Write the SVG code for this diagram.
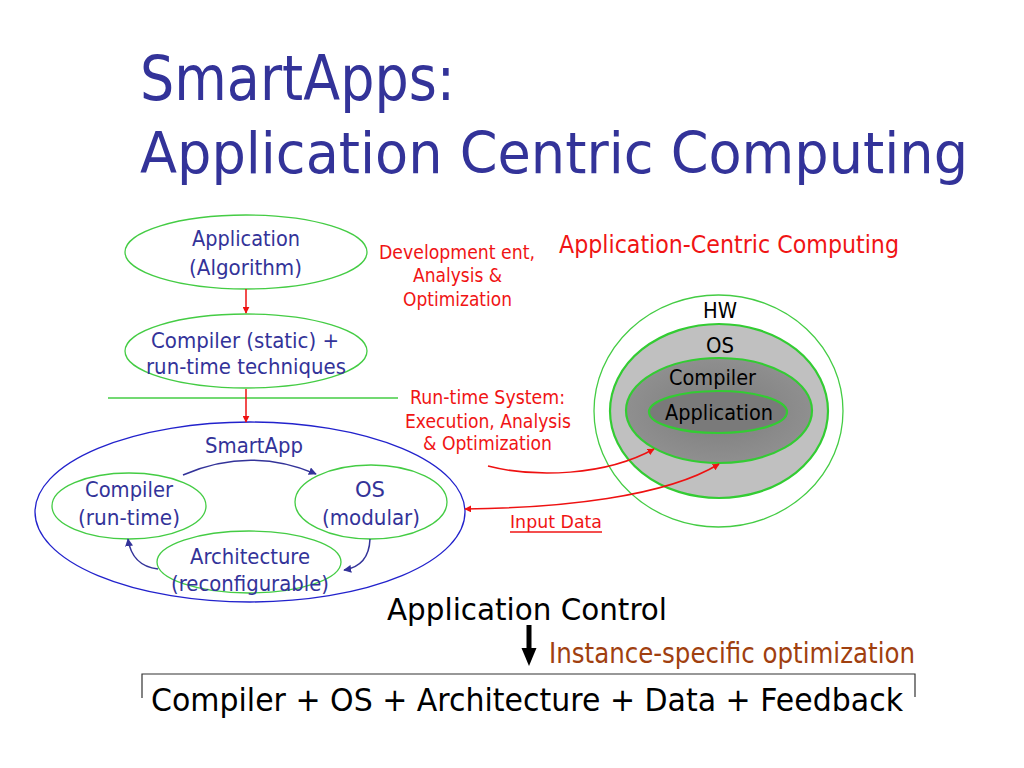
<svg xmlns="http://www.w3.org/2000/svg" width="1024" height="768" viewBox="0 0 1024 768">
<style>
text{font-family:"DejaVu Sans","Liberation Sans",sans-serif;}
.title{font-size:57px;fill:#333399;}
.bl{font-size:21px;fill:#333399;}
.rd{font-size:19px;fill:#f01414;}
.bk{font-size:20.5px;fill:#000;}
.big{font-size:31px;fill:#000;}
.br{font-size:28px;fill:#a0400f;}
.gel{fill:none;stroke:#44cc44;stroke-width:1.3;}
.gfill{stroke:#33cc33;stroke-width:2.2;}
.red{fill:none;stroke:#ee1111;stroke-width:1.5;}
.blue{fill:none;stroke:#333399;stroke-width:1.5;}
</style>
<defs>
<marker id="ra" viewBox="0 0 10 10" refX="9" refY="5" markerWidth="7" markerHeight="7" markerUnits="userSpaceOnUse" orient="auto-start-reverse"><path d="M0,0 L10,5 L0,10 z" fill="#ee1111"/></marker>
<marker id="ba" viewBox="0 0 10 10" refX="9" refY="5" markerWidth="8" markerHeight="8" markerUnits="userSpaceOnUse" orient="auto"><path d="M0,0 L10,5 L0,10 z" fill="#333399"/></marker>
<radialGradient id="cg" cx="0.5" cy="0.5" r="0.6"><stop offset="0" stop-color="#7c7c7c"/><stop offset="1" stop-color="#939393"/></radialGradient>
</defs>
<rect width="1024" height="768" fill="#fff"/>

<g id="title">
<text class="title" x="140" y="100" style="font-size:62px" textLength="315" lengthAdjust="spacingAndGlyphs">SmartApps:</text>
<text class="title" x="140" y="173" textLength="828" lengthAdjust="spacingAndGlyphs">Application Centric Computing</text>
</g>

<g id="node-application">
<ellipse class="gel" cx="246" cy="252" rx="121" ry="37"/>
<text class="bl" x="192" y="246" textLength="108" lengthAdjust="spacingAndGlyphs">Application</text>
<text class="bl" x="189" y="275" textLength="113" lengthAdjust="spacingAndGlyphs">(Algorithm)</text>
</g>
<g id="node-compiler-static">
<ellipse class="gel" cx="246" cy="351" rx="121" ry="37"/>
<text class="bl" x="151" y="348" textLength="188" lengthAdjust="spacingAndGlyphs">Compiler (static) +</text>
<text class="bl" x="146" y="374" textLength="200" lengthAdjust="spacingAndGlyphs">run-time techniques</text>
</g>
<g id="divider">
<line x1="108" y1="398" x2="398" y2="398" stroke="#44cc44" stroke-width="1.3"/>
</g>
<g id="node-smartapp">
<ellipse cx="250" cy="512" rx="215" ry="90" fill="none" stroke="#2222cc" stroke-width="1.3"/>
<text class="bl" x="205" y="453" textLength="98" lengthAdjust="spacingAndGlyphs">SmartApp</text>
</g>
<g id="node-compiler-runtime">
<ellipse class="gel" cx="129" cy="506" rx="77" ry="33"/>
<text class="bl" x="85" y="497" textLength="88" lengthAdjust="spacingAndGlyphs">Compiler</text>
<text class="bl" x="78" y="525" textLength="102" lengthAdjust="spacingAndGlyphs">(run-time)</text>
</g>
<g id="node-os-modular">
<ellipse class="gel" cx="371" cy="502" rx="76" ry="37"/>
<text class="bl" x="355" y="497" textLength="30" lengthAdjust="spacingAndGlyphs">OS</text>
<text class="bl" x="322" y="525" textLength="98" lengthAdjust="spacingAndGlyphs">(modular)</text>
</g>
<g id="node-architecture">
<ellipse class="gel" cx="249" cy="562" rx="92" ry="31"/>
<text class="bl" x="190" y="564" textLength="120" lengthAdjust="spacingAndGlyphs">Architecture</text>
<text class="bl" x="171" y="591" textLength="158" lengthAdjust="spacingAndGlyphs">(reconfigurable)</text>
</g>

<g id="labels-red">
<text class="rd" x="379" y="259" textLength="156" lengthAdjust="spacingAndGlyphs">Development ent,</text>
<text class="rd" x="413" y="282" textLength="89" lengthAdjust="spacingAndGlyphs">Analysis &amp;</text>
<text class="rd" x="403" y="306" textLength="109" lengthAdjust="spacingAndGlyphs">Optimization</text>
<text class="rd" x="559" y="253" style="font-size:24px" textLength="340" lengthAdjust="spacingAndGlyphs">Application-Centric Computing</text>
<text class="rd" x="410" y="404" textLength="155" lengthAdjust="spacingAndGlyphs">Run-time System:</text>
<text class="rd" x="405" y="428" textLength="166" lengthAdjust="spacingAndGlyphs">Execution, Analysis</text>
<text class="rd" x="423" y="450" textLength="129" lengthAdjust="spacingAndGlyphs">&amp; Optimization</text>
<text class="rd" x="510" y="528" style="font-size:18px" textLength="92" lengthAdjust="spacingAndGlyphs">Input Data</text>
<line x1="510" y1="532" x2="602" y2="532" stroke="#f01414" stroke-width="1.3"/>
</g>

<g id="node-hw">
<ellipse class="gel" cx="718.5" cy="411" rx="124.5" ry="116" fill="#fff"/>
<text class="bk" x="703" y="318" textLength="34" lengthAdjust="spacingAndGlyphs">HW</text>
</g>
<g id="node-os">
<ellipse class="gfill" cx="719" cy="411" rx="109" ry="87" fill="#c0c0c0"/>
<text class="bk" x="706" y="353" textLength="28" lengthAdjust="spacingAndGlyphs">OS</text>
</g>
<g id="node-compiler">
<ellipse class="gfill" cx="719" cy="410.5" rx="93" ry="52.5" fill="url(#cg)"/>
<text class="bk" x="669" y="385" textLength="87" lengthAdjust="spacingAndGlyphs">Compiler</text>
</g>
<g id="node-app">
<ellipse class="gfill" cx="718" cy="412" rx="69" ry="21" fill="#7a7a7a"/>
<text class="bk" x="665" y="420" textLength="108" lengthAdjust="spacingAndGlyphs">Application</text>
</g>

<g id="connectors">
<line class="red" x1="246" y1="289" x2="246" y2="313" marker-end="url(#ra)"/>
<line class="red" x1="246" y1="389" x2="246" y2="422" marker-end="url(#ra)"/>
<path class="blue" d="M183,475 Q250,446 316,474" marker-end="url(#ba)"/>
<path class="blue" d="M370,539 Q369,566 344,570" marker-end="url(#ba)"/>
<path class="blue" d="M158,569 Q132,566 128,539" marker-end="url(#ba)"/>
<path class="red" d="M488,466 C535,478 605,476 654,449" marker-end="url(#ra)"/>
<path class="red" d="M465,509 C560,508 665,497 719,464" marker-start="url(#ra)" marker-end="url(#ra)"/>
<line x1="529" y1="625" x2="529" y2="650" stroke="#000" stroke-width="5"/>
<path d="M521.5,648 L536.5,648 L529,666 z" fill="#000"/>
</g>

<g id="bottom">
<text class="big" x="387" y="620" textLength="280" lengthAdjust="spacingAndGlyphs">Application Control</text>
<text class="br" x="549" y="663" textLength="366" lengthAdjust="spacingAndGlyphs">Instance-specific optimization</text>
<path d="M142,698 V674 H915 V697" fill="none" stroke="#333" stroke-width="1.2"/>
<text class="big" x="151" y="711" style="font-size:32px" textLength="752" lengthAdjust="spacingAndGlyphs">Compiler + OS + Architecture + Data + Feedback</text>
</g>
</svg>
